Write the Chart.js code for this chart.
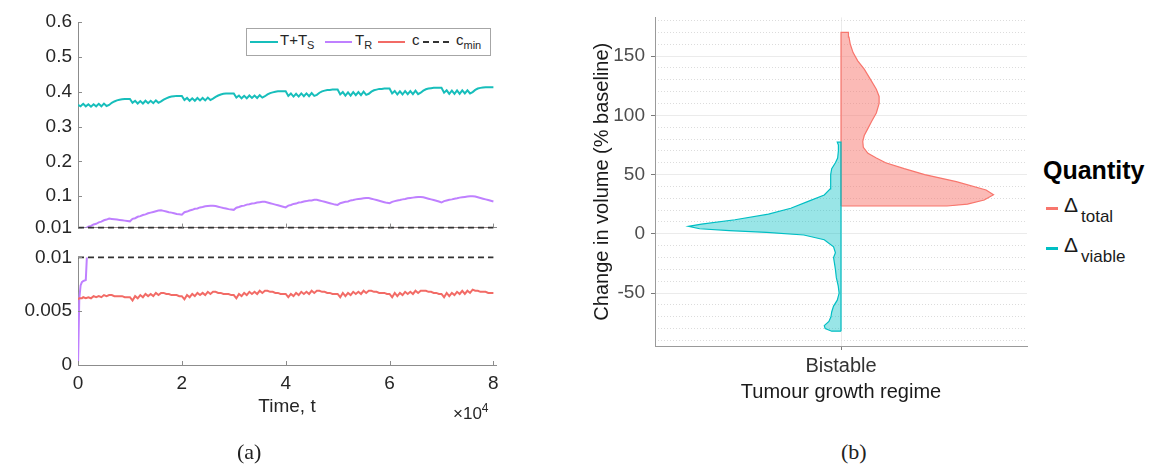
<!DOCTYPE html>
<html lang="en">
<head>
<meta charset="UTF-8">
<title>Dynamics and change in volume</title>
<script src="https://cdn.jsdelivr.net/npm/chart.js"></script>
<style>
  body { margin: 0; width: 1155px; height: 470px; position: relative; background: #fff; overflow: hidden;
         font-family: 'Liberation Sans', Arial, sans-serif; }
  canvas, .t, .key { position: absolute; }
  .t { white-space: nowrap; }
  .box { position: absolute; box-sizing: border-box; border: 1px solid #a6a6a6; background: #fff; }
  .lg { font-size: 15px; line-height: 18px; color: #262626; }
  .lg sub { font-size: 11px; vertical-align: -4px; line-height: 0; }
  .cap { font-family: 'Liberation Serif', 'DejaVu Serif', serif; font-size: 22px; color: #222; }
</style>
</head>
<body>
<canvas id="topPanel" width="520" height="245" style="left:0;top:0"></canvas>
<canvas id="bottomPanel" width="520" height="200" style="left:0;top:240px"></canvas>
<canvas id="violin" width="460" height="430" style="left:580px;top:0"></canvas>

<div class="box" style="left:246px;top:28px;width:245px;height:28px"></div>
<div class="key" style="left:250px;top:41px;width:28px;height:2px;background:#17BEBB"></div>
<div class="t lg" style="left:280px;top:31px">T+T<sub>S</sub></div>
<div class="key" style="left:325px;top:41px;width:27px;height:2px;background:#BF80FF"></div>
<div class="t lg" style="left:355px;top:31px">T<sub>R</sub></div>
<div class="key" style="left:378px;top:41px;width:27px;height:2px;background:#F26B66"></div>
<div class="t lg" style="left:412px;top:31px">c</div>
<div class="key" style="left:423px;top:41px;width:27px;height:2px;background:repeating-linear-gradient(90deg,#333 0 6px,transparent 6px 10px)"></div>
<div class="t lg" style="left:456px;top:31px">c<sub>min</sub></div>

<div class="t" style="left:453px;top:401px;font-size:17px;color:#262626">&times;10<span style="font-size:12px;vertical-align:7px">4</span></div>
<div class="t cap" style="left:237px;top:439px">(a)</div>
<div class="t cap" style="left:841px;top:439px">(b)</div>

<div class="t" style="left:1043px;top:156px;font-size:25px;font-weight:bold;color:#000">Quantity</div>
<div class="key" style="left:1046px;top:207px;width:12px;height:3px;background:#F8766D"></div>
<div class="t" style="left:1064px;top:193px;font-size:21px;line-height:24px;color:#1a1a1a">&Delta;</div>
<div class="t" style="left:1081px;top:207px;font-size:17px;line-height:20px;color:#1a1a1a">total</div>
<div class="key" style="left:1046px;top:247px;width:12px;height:3px;background:#00BFC4"></div>
<div class="t" style="left:1064px;top:233px;font-size:21px;line-height:24px;color:#1a1a1a">&Delta;</div>
<div class="t" style="left:1081px;top:247px;font-size:17px;line-height:20px;color:#1a1a1a">viable</div>

<script>
// (a) time courses
const timeSteps = [
  0, 250, 500, 750, 1000, 1500, 2000, 2500, 3000, 3500, 4000, 4500, 5000, 5500, 6000, 6500, 7000, 7500, 8000, 8500, 9000, 9500,
  10000, 10500, 11000, 11500, 12000, 12500, 13000, 13500, 14000, 14500, 15000, 15500, 16000, 16500, 17000, 17500, 18000, 18500, 19000, 19500,
  20000, 20500, 21000, 21500, 22000, 22500, 23000, 23500, 24000, 24500, 25000, 25500, 26000, 26500, 27000, 27500, 28000, 28500, 29000, 29500,
  30000, 30500, 31000, 31500, 32000, 32500, 33000, 33500, 34000, 34500, 35000, 35500, 36000, 36500, 37000, 37500, 38000, 38500, 39000, 39500,
  40000, 40500, 41000, 41500, 42000, 42500, 43000, 43500, 44000, 44500, 45000, 45500, 46000, 46500, 47000, 47500, 48000, 48500, 49000, 49500,
  50000, 50500, 51000, 51500, 52000, 52500, 53000, 53500, 54000, 54500, 55000, 55500, 56000, 56500, 57000, 57500, 58000, 58500, 59000, 59500,
  60000, 60500, 61000, 61500, 62000, 62500, 63000, 63500, 64000, 64500, 65000, 65500, 66000, 66500, 67000, 67500, 68000, 68500, 69000, 69500,
  70000, 70500, 71000, 71500, 72000, 72500, 73000, 73500, 74000, 74500, 75000, 75500, 76000, 76500, 77000, 77500, 78000, 78500, 79000, 79500,
  80000
];
const sensitiveTotal = [ // T+T_S
  0.362, 0.360, 0.358, 0.362, 0.365, 0.358, 0.364, 0.357, 0.364, 0.358, 0.365, 0.358, 0.366, 0.359, 0.362, 0.368, 0.372, 0.375, 0.377, 0.378, 0.379, 0.379,
  0.379, 0.368, 0.374, 0.366, 0.373, 0.366, 0.374, 0.367, 0.374, 0.367, 0.375, 0.368, 0.372, 0.377, 0.381, 0.384, 0.386, 0.387, 0.388, 0.388,
  0.388, 0.376, 0.382, 0.374, 0.381, 0.374, 0.382, 0.375, 0.382, 0.375, 0.383, 0.376, 0.380, 0.385, 0.389, 0.392, 0.394, 0.395, 0.395, 0.395,
  0.395, 0.383, 0.389, 0.381, 0.388, 0.381, 0.389, 0.382, 0.389, 0.382, 0.390, 0.383, 0.387, 0.392, 0.396, 0.398, 0.400, 0.401, 0.401, 0.401,
  0.401, 0.388, 0.395, 0.386, 0.394, 0.386, 0.395, 0.387, 0.395, 0.387, 0.396, 0.388, 0.391, 0.397, 0.401, 0.403, 0.405, 0.405, 0.406, 0.406,
  0.406, 0.392, 0.399, 0.389, 0.398, 0.389, 0.399, 0.390, 0.399, 0.390, 0.400, 0.391, 0.394, 0.400, 0.404, 0.406, 0.408, 0.408, 0.409, 0.409,
  0.409, 0.395, 0.402, 0.392, 0.401, 0.392, 0.402, 0.393, 0.402, 0.393, 0.403, 0.393, 0.397, 0.403, 0.407, 0.409, 0.410, 0.411, 0.411, 0.411,
  0.411, 0.397, 0.404, 0.394, 0.403, 0.394, 0.404, 0.394, 0.404, 0.395, 0.404, 0.395, 0.399, 0.405, 0.409, 0.411, 0.412, 0.413, 0.413, 0.413,
  0.413
];
const resistant = [ // T_R
  0, 0.0062, 0.0074, 0.0077, 0.0078, 0.0079, 0.013, 0.015, 0.019, 0.021, 0.025, 0.027, 0.031, 0.033, 0.036, 0.035, 0.034, 0.033, 0.032, 0.031, 0.030, 0.029,
  0.028, 0.035, 0.037, 0.041, 0.043, 0.046, 0.048, 0.051, 0.053, 0.055, 0.057, 0.059, 0.060, 0.058, 0.056, 0.054, 0.053, 0.051, 0.049, 0.048,
  0.047, 0.054, 0.056, 0.059, 0.061, 0.064, 0.065, 0.068, 0.069, 0.071, 0.072, 0.073, 0.073, 0.072, 0.070, 0.068, 0.066, 0.065, 0.063, 0.062,
  0.061, 0.067, 0.069, 0.072, 0.073, 0.076, 0.077, 0.079, 0.080, 0.082, 0.083, 0.084, 0.084, 0.082, 0.080, 0.078, 0.076, 0.074, 0.072, 0.070,
  0.068, 0.073, 0.075, 0.078, 0.079, 0.082, 0.083, 0.085, 0.086, 0.088, 0.088, 0.090, 0.090, 0.088, 0.086, 0.084, 0.082, 0.080, 0.078, 0.076,
  0.075, 0.080, 0.082, 0.084, 0.085, 0.088, 0.089, 0.091, 0.092, 0.093, 0.094, 0.095, 0.095, 0.093, 0.091, 0.089, 0.087, 0.085, 0.083, 0.081,
  0.080, 0.084, 0.086, 0.088, 0.089, 0.091, 0.092, 0.094, 0.095, 0.096, 0.097, 0.098, 0.098, 0.097, 0.095, 0.093, 0.091, 0.089, 0.087, 0.085,
  0.082, 0.086, 0.088, 0.090, 0.091, 0.093, 0.094, 0.096, 0.097, 0.098, 0.099, 0.100, 0.100, 0.099, 0.097, 0.095, 0.093, 0.091, 0.089, 0.087,
  0.085
];
const drugConc = [ // c
  0.0061, 0.0062, 0.0062, 0.0062, 0.0063, 0.0062, 0.0063, 0.0062, 0.0064, 0.0063, 0.0064, 0.0063, 0.0065, 0.0064, 0.0065, 0.0065, 0.0064, 0.0064, 0.0064, 0.0064, 0.0063, 0.0063,
  0.0063, 0.0060, 0.0064, 0.0062, 0.0065, 0.0063, 0.0066, 0.0064, 0.0066, 0.0064, 0.0067, 0.0065, 0.0067, 0.0067, 0.0066, 0.0066, 0.0065, 0.0065, 0.0065, 0.0064,
  0.0064, 0.0061, 0.0065, 0.0063, 0.0066, 0.0064, 0.0067, 0.0065, 0.0067, 0.0065, 0.0068, 0.0066, 0.0068, 0.0068, 0.0067, 0.0067, 0.0066, 0.0066, 0.0066, 0.0065,
  0.0065, 0.0062, 0.0066, 0.0064, 0.0067, 0.0065, 0.0068, 0.0066, 0.0068, 0.0066, 0.0069, 0.0067, 0.0069, 0.0069, 0.0068, 0.0068, 0.0067, 0.0067, 0.0066, 0.0066,
  0.0066, 0.0063, 0.0066, 0.0064, 0.0067, 0.0065, 0.0068, 0.0066, 0.0068, 0.0066, 0.0069, 0.0067, 0.0069, 0.0069, 0.0068, 0.0068, 0.0067, 0.0067, 0.0066, 0.0066,
  0.0066, 0.0063, 0.0067, 0.0064, 0.0067, 0.0065, 0.0068, 0.0066, 0.0068, 0.0066, 0.0069, 0.0067, 0.0069, 0.0069, 0.0068, 0.0068, 0.0067, 0.0067, 0.0067, 0.0066,
  0.0066, 0.0063, 0.0067, 0.0064, 0.0067, 0.0065, 0.0068, 0.0066, 0.0068, 0.0066, 0.0069, 0.0067, 0.0069, 0.0069, 0.0069, 0.0068, 0.0068, 0.0067, 0.0067, 0.0066,
  0.0066, 0.0063, 0.0067, 0.0064, 0.0067, 0.0065, 0.0068, 0.0066, 0.0069, 0.0066, 0.0069, 0.0067, 0.0070, 0.0069, 0.0069, 0.0068, 0.0068, 0.0068, 0.0067, 0.0067,
  0.0067
];
const cMin = 0.01;
const upperTicks = [0.01, 0.1, 0.2, 0.3, 0.4, 0.5, 0.6];
const lowerTicks = [0, 0.005, 0.01];
const timeTicks = [0, 20000, 40000, 60000, 80000];

// (b) half violins: outline as (density width, value) pairs
const regimeLabel = 'Bistable';
const totalValue = [23.5, 23.5, 25, 28.5, 33, 37, 44, 50, 55, 60, 64, 68, 73, 78, 83, 89, 95, 102, 110, 116, 122, 130, 139, 146, 153, 160, 166, 170, 170, 23.5];
const totalWidth = [0, 0.57, 0.68, 0.77, 0.82, 0.78, 0.62, 0.45, 0.34, 0.24, 0.19, 0.145, 0.12, 0.117, 0.125, 0.145, 0.165, 0.19, 0.205, 0.205, 0.19, 0.16, 0.125, 0.09, 0.065, 0.05, 0.043, 0.04, 0, 0];
const viableValue = [-82.2, -82.2, -80, -77.5, -74, -70, -66, -61, -56, -50, -44, -37, -30, -25, -20, -16, -11, -5, -1, 1.2, 2.7, 4.3, 6.3, 8.2, 11.9, 16.6, 21.6, 27.2, 32.8, 38, 43, 50, 55, 60, 64, 70, 75, 77.4, 77.4, -82.2];
const viableWidth = [0, -0.05, -0.085, -0.09, -0.065, -0.054, -0.05, -0.04, -0.02, -0.01, -0.015, -0.025, -0.03, -0.035, -0.04, -0.03, -0.04, -0.09, -0.2, -0.4, -0.6, -0.76, -0.82, -0.75, -0.57, -0.39, -0.27, -0.18, -0.09, -0.058, -0.054, -0.057, -0.05, -0.03, -0.018, -0.014, -0.014, -0.02, 0, 0];
const majorTicks = [-50, 0, 50, 100, 150];
const minorTicks = [-90, -80, -70, -60, -40, -30, -20, -10, 10, 20, 30, 40, 60, 70, 80, 90, 110, 120, 130, 140, 160, 170, 180];

const teal = '#17BEBB', purple = '#BF80FF', red = '#F26B66';
const axisGray = '#8c8c8c', ink = '#262626';

Chart.defaults.font.family = "'Liberation Sans', Arial, sans-serif";
Chart.defaults.animation = false;

const pts = (xs, ys) => xs.map((x, i) => ({ x: x, y: ys[i] }));

function timeSeries() {
  return [
    { data: [{ x: timeSteps[0], y: cMin }, { x: timeSteps[timeSteps.length - 1], y: cMin }],
      borderColor: '#333', borderWidth: 1.6, borderDash: [6, 4], order: 0, clip: false },
    { data: pts(timeSteps, drugConc), borderColor: red, order: 1 },
    { data: pts(timeSteps, resistant), borderColor: purple, order: 2 },
    { data: pts(timeSteps, sensitiveTotal), borderColor: teal, order: 3 }
  ].map(d => Object.assign({ showLine: true, pointRadius: 0, borderWidth: 2 }, d));
}

// MATLAB style ticks pointing into the axes
const inwardTicks = {
  id: 'inwardTicks',
  afterDraw(chart) {
    const { ctx, chartArea: a, scales: { x, y } } = chart;
    ctx.save();
    ctx.strokeStyle = axisGray;
    ctx.lineWidth = 1;
    ctx.beginPath();
    y.ticks.forEach(t => {
      const p = Math.round(y.getPixelForValue(t.value)) + 0.5;
      ctx.moveTo(a.left, p); ctx.lineTo(a.left + 4, p);
    });
    x.ticks.forEach(t => {
      const p = Math.round(x.getPixelForValue(t.value)) + 0.5;
      ctx.moveTo(p, a.bottom); ctx.lineTo(p, a.bottom - 4);
    });
    ctx.stroke();
    ctx.restore();
  }
};

function timeAxis(withLabels, height) {
  return {
    type: 'linear', min: 0, max: 80500,
    afterBuildTicks: s => { s.ticks = timeTicks.map(v => ({ value: v })); },
    afterFit: s => { s.height = height; },
    ticks: { display: withLabels, autoSkip: false, maxRotation: 0, padding: 7, color: ink, font: { size: 19 },
             callback: v => String(v / 10000) },
    grid: { drawOnChartArea: false, drawTicks: false },
    border: { color: axisGray },
    title: { display: withLabels, text: 'Time, t', color: ink, font: { size: 19 }, padding: { top: 0, bottom: 22 } }
  };
}

function valueAxis(min, max, tickList, fmt) {
  return {
    type: 'linear', min: min, max: max,
    afterBuildTicks: s => { s.ticks = tickList.map(v => ({ value: v })); },
    afterFit: s => { s.width = 78; },
    ticks: { autoSkip: false, padding: 6, color: ink, font: { size: 19 }, callback: fmt },
    grid: { drawOnChartArea: false, drawTicks: false },
    border: { color: axisGray }
  };
}

const quiet = { legend: { display: false }, tooltip: { enabled: false } };

new Chart(document.getElementById('topPanel'), {
  type: 'scatter',
  data: { datasets: timeSeries() },
  options: {
    responsive: false,
    layout: { padding: { top: 22, right: 24, left: 0, bottom: 0 } },
    plugins: quiet,
    scales: {
      x: timeAxis(false, 12),
      y: valueAxis(0.01, 0.6, upperTicks, v => v === 0.01 ? '0.01' : v.toFixed(1))
    }
  },
  plugins: [inwardTicks]
});

new Chart(document.getElementById('bottomPanel'), {
  type: 'scatter',
  data: { datasets: timeSeries() },
  options: {
    responsive: false,
    layout: { padding: { top: 16, right: 24, left: 0, bottom: 0 } },
    plugins: quiet,
    scales: {
      x: timeAxis(true, 75),
      y: valueAxis(0, 0.01, lowerTicks, v => String(v))
    }
  },
  plugins: [inwardTicks]
});

new Chart(document.getElementById('violin'), {
  type: 'scatter',
  data: {
    datasets: [
      { data: pts(viableWidth, viableValue), borderColor: '#00BFC4', backgroundColor: 'rgba(0,191,196,0.4)', order: 0 },
      { data: pts(totalWidth, totalValue), borderColor: '#F8766D', backgroundColor: 'rgba(248,118,109,0.5)', order: 1 }
    ].map(d => Object.assign({ showLine: true, fill: 'shape', pointRadius: 0, borderWidth: 1.2 }, d))
  },
  options: {
    responsive: false,
    layout: { padding: { top: 14, right: 13, left: 0, bottom: 0 } },
    plugins: quiet,
    scales: {
      x: {
        type: 'linear', min: -1, max: 1,
        afterBuildTicks: s => { s.ticks = [{ value: 0 }]; },
        afterFit: s => { s.height = 84; },
        ticks: { padding: 4, color: '#333', font: { size: 20 }, callback: () => regimeLabel },
        grid: { color: '#ebebeb', tickLength: 4, tickColor: '#7a7a7a' },
        border: { color: '#9a9a9a' },
        title: { display: true, text: 'Tumour growth regime', color: '#1a1a1a', font: { size: 20 }, padding: { top: 0, bottom: 26 } }
      },
      y: {
        type: 'linear', min: -94.7, max: 182.7,
        afterBuildTicks: s => { s.ticks = majorTicks.map(v => ({ value: v })); },
        afterFit: s => { s.width = 75; },
        ticks: { padding: 6, color: '#4d4d4d', font: { size: 19 }, autoSkip: false },
        grid: { color: '#ebebeb', tickLength: 4, tickColor: '#7a7a7a' },
        border: { color: '#9a9a9a' },
        title: { display: true, text: 'Change in volume (% baseline)', color: '#1a1a1a', font: { size: 20 }, padding: { top: 10, bottom: 0 } }
      },
      yMinor: {
        type: 'linear', position: 'left', min: -94.7, max: 182.7,
        afterBuildTicks: s => { s.ticks = minorTicks.map(v => ({ value: v })); },
        afterFit: s => { s.width = 0; },
        ticks: { display: false },
        grid: { color: '#dcdcdc', drawTicks: false, borderDash: [1, 2] },
        border: { display: false, dash: [1, 2] }
      }
    }
  }
});
</script>
</body>
</html>
